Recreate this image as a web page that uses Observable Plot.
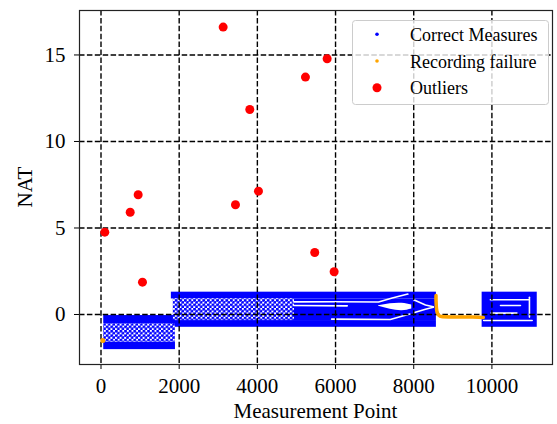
<!DOCTYPE html>
<html><head><meta charset="utf-8">
<script src="https://cdn.jsdelivr.net/npm/d3@7"></script>
<script src="https://cdn.jsdelivr.net/npm/@observablehq/plot@0.6"></script>
<style>body{margin:0;background:#fff} #chart{position:relative;width:557px;height:424px}</style>
</head><body><div id="chart"></div>
<script>
// ---- data ----
const xTicks = [0, 2000, 4000, 6000, 8000, 10000];
const yTicks = [0, 5, 10, 15];

// dense "Correct Measures" bands (envelopes of the blue point clouds)
const bandStart   = [70, 70, 70, 1800, 1850, 4950, 1800, 9750];
const bandEnd     = [1905, 1905, 1905, 8580, 4950, 8580, 8580, 11160];
const bandTop     = [-0.06, -0.53, -1.6, 1.29, 0.9, 0.9, -0.35, 1.29];
const bandBottom  = [-0.53, -1.6, -2.03, 0.9, -0.35, -0.35, -0.74, -0.74];
const bandTexture = ["solid", "dotted", "solid", "solid", "dotted", "solid", "solid", "solid"];

// white gaps inside the blue bands
const gapId = [1,1,1,1,1, 2,2, 3,3,3, 4,4,4, 5,5,5, 6,6, 7,7, 8,8, 9,9, 10,10];
const gapX  = [4930,6000,7100,7450,7850, 4930,6300, 5900,7400,7900, 8000,8300,8500, 8000,8300,8500,
               9960,10940, 10220,10730, 9980,10640, 9790,11030, 10960,10960];
const gapY  = [0.73,0.74,0.72,0.95,1.18, 0.52,0.5, -0.27,-0.29,0.03, 0.85,0.55,0.45, 0.1,0.3,0.42,
               0.85,0.85, 0.52,0.52, 0.08,0.08, -0.35,-0.35, 1.0,-0.15];
const lensX      = [7100, 7400, 7700, 7950];
const lensTop    = [0.5, 0.62, 0.65, 0.55];
const lensBottom = [0.47, 0.3, 0.22, 0.32];

// "Recording failure"
const failX = [8570, 8570, 8575, 8582, 8605, 8645, 8710, 9000, 9500, 9780];
const failY = [1.1, 0.9, 0.6, 0.35, 0.1, -0.05, -0.12, -0.15, -0.15, -0.17];
const failPointX = [46];
const failPointY = [-1.5];

// "Outliers"
const outX = [97, 747, 951, 1061, 3125, 3440, 3806, 4028, 5230, 5468, 5785, 5964];
const outY = [4.76, 5.91, 6.92, 1.87, 16.61, 6.34, 11.85, 7.13, 13.72, 3.58, 14.78, 2.47];

// ---- build tables ----
const bands = bandStart.map((s, i) => ({x1: s, x2: bandEnd[i], y1: bandBottom[i], y2: bandTop[i], t: bandTexture[i]}));
const gaps = gapX.map((x, i) => ({id: gapId[i], x, y: gapY[i]}));
const lens = lensX.map((x, i) => ({x, y1: lensBottom[i], y2: lensTop[i]}));
const fail = failX.map((x, i) => ({x, y: failY[i]}));
const failPts = failPointX.map((x, i) => ({x, y: failPointY[i]}));
const outliers = outX.map((x, i) => ({x, y: outY[i]}));

const BLUE = "#0000ff", BLUE_TEXTURE = "#0000fe", ORANGE = "#ffa500", RED = "#ff0000";
const dash = {stroke: "black", strokeWidth: 1.4, strokeDasharray: "5.5,2.4"};

const svg = Plot.plot({
  width: 557, height: 424,
  marginLeft: 79, marginRight: 5, marginTop: 10, marginBottom: 60,
  style: {fontFamily: "'Liberation Serif', 'DejaVu Serif', serif", fontSize: "21px", background: "white", color: "black"},
  x: {domain: [-550, 11550], ticks: xTicks, tickFormat: d => String(d), tickSize: 5, tickPadding: 9, label: null},
  y: {domain: [-2.89, 17.57], ticks: yTicks, tickFormat: d => String(d), tickSize: 5, tickPadding: 9, label: null},
  marks: [
    Plot.rect(bands.filter(d => d.t === "solid"), {x1: "x1", x2: "x2", y1: "y1", y2: "y2", fill: BLUE}),
    Plot.rect(bands.filter(d => d.t === "dotted"), {x1: "x1", x2: "x2", y1: "y1", y2: "y2", fill: BLUE_TEXTURE}),
    Plot.areaY(lens, {x: "x", y1: "y1", y2: "y2", fill: "white", curve: "natural"}),
    Plot.line(gaps, {x: "x", y: "y", z: "id", stroke: "white", strokeWidth: 1.6}),
    Plot.ruleX(xTicks, dash),
    Plot.ruleY(yTicks, dash),
    Plot.line(fail, {x: "x", y: "y", stroke: ORANGE, strokeWidth: 3.5, curve: "monotone-y"}),
    Plot.dot(failPts, {x: "x", y: "y", r: 2.5, fill: ORANGE}),
    Plot.dot(outliers, {x: "x", y: "y", r: 4.5, fill: RED}),
    Plot.frame({stroke: "#222", strokeWidth: 1.2})
  ]
});

// dotted texture for the moiré parts of the blue clouds
const s = d3.select(svg);
const defs = s.append("defs");
const pat = defs.append("pattern").attr("id", "dotpat").attr("patternUnits", "userSpaceOnUse")
  .attr("width", 4.6).attr("height", 4.4);
pat.append("rect").attr("width", 4.6).attr("height", 4.4).attr("fill", "white");
pat.append("circle").attr("cx", 1.2).attr("cy", 1.1).attr("r", 1.55).attr("fill", BLUE);
pat.append("circle").attr("cx", 3.5).attr("cy", 3.3).attr("r", 1.55).attr("fill", BLUE);
s.selectAll(`[fill="${BLUE_TEXTURE}"]`).attr("fill", "url(#dotpat)");

// axis labels
s.append("text").attr("x", 315.5).attr("y", 418).attr("text-anchor", "middle")
  .attr("font-size", 21).attr("fill", "black").text("Measurement Point");
s.append("text").attr("transform", "translate(32,187) rotate(-90)").attr("text-anchor", "middle")
  .attr("font-size", 21).attr("fill", "black").text("NAT");

// legend
const lg = s.append("g").attr("font-size", 18).attr("text-anchor", "start");
lg.append("rect").attr("x", 352.5).attr("y", 20.5).attr("width", 196).attr("height", 84).attr("rx", 3)
  .attr("fill", "white").attr("fill-opacity", 0.8).attr("stroke", "#cccccc");
const items = [["Correct Measures", BLUE, 1.8], ["Recording failure", ORANGE, 1.8], ["Outliers", RED, 4.5]];
items.forEach(([label, color, r], i) => {
  const y = 34.3 + i * 26.7;
  lg.append("circle").attr("cx", 377).attr("cy", y).attr("r", r).attr("fill", color);
  lg.append("text").attr("x", 410).attr("y", y + 6.5).attr("text-anchor", "start").attr("fill", "black").text(label);
});

document.getElementById("chart").appendChild(svg);
</script></body></html>
